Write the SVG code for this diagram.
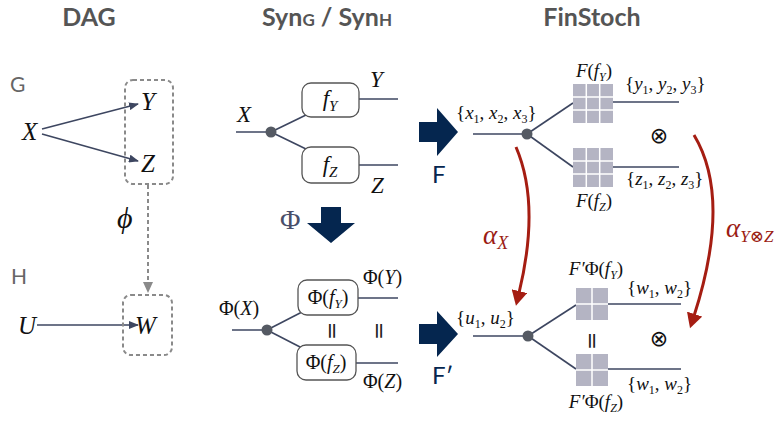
<svg xmlns="http://www.w3.org/2000/svg" width="783" height="424" viewBox="0 0 783 424">
<style>
.title{font-family:Lato,"Open Sans",sans-serif;font-weight:700;font-size:25px;fill:#555}
.sub{font-size:17px}
.lab{font-family:Lato,"Open Sans",sans-serif;font-size:21px;fill:#666}
.m{font-family:"Liberation Serif","DejaVu Serif",serif;font-style:italic;fill:#111}
.r{font-family:"Liberation Serif","DejaVu Serif",serif;fill:#111}
.up{font-style:normal}
.wire{stroke:#3d4660;stroke-width:1.6;fill:none}
.box{fill:#fff;stroke:#555;stroke-width:1.3}
.dash{fill:none;stroke:#8a8a8a;stroke-width:2;stroke-dasharray:4 3}
.dot{fill:#555a63}
.cell{fill:#b4b4c3}
.gap{stroke:#fff;stroke-width:1.5}
.big{fill:#05264f}
.bigt{font-family:Lato,"Open Sans",sans-serif;font-size:24px;fill:#05264f}
.red{stroke:#a51d12;stroke-width:3;fill:none}
.redt{fill:#9b1c14;font-family:"Liberation Serif","DejaVu Serif",serif;font-style:italic}
.eq{font-family:"DejaVu Sans",sans-serif;font-size:22px;fill:#222}
.ot{font-family:"DejaVu Sans",sans-serif;font-size:22px;fill:#111}
</style>
<defs>
<marker id="ah" markerUnits="userSpaceOnUse" markerWidth="10" markerHeight="8" refX="9" refY="4" orient="auto"><path d="M0,0 L10,4 L0,8 z" fill="#3d4660"/></marker>
<marker id="ahg" markerUnits="userSpaceOnUse" markerWidth="12" markerHeight="10" refX="1" refY="5" orient="auto"><path d="M0,0 L11,5 L0,10 z" fill="#8a8a8a"/></marker>
<marker id="ahr" markerUnits="userSpaceOnUse" markerWidth="16" markerHeight="16" refX="2" refY="8" orient="auto"><path d="M0,0 L15,8 L0,16 z" fill="#a51d12"/></marker>
<g id="g3"><rect class="cell" x="0" y="0" width="40" height="39"/><path class="gap" d="M13.3,0V39M26.7,0V39M0,13H40M0,26H40"/></g>
<g id="g2"><rect class="cell" x="0" y="0" width="32" height="32"/><path class="gap" d="M16,0V32M0,16H32"/></g>
</defs>
<rect width="783" height="424" fill="#fff"/>

<g id="titles">
<text class="title" x="89" y="26" text-anchor="middle">DAG</text>
<text class="title" x="327" y="26" text-anchor="middle">Syn<tspan class="sub">G</tspan> / Syn<tspan class="sub">H</tspan></text>
<text class="title" x="592" y="26" text-anchor="middle">FinStoch</text>
</g>

<g id="connectors">
<line class="wire" x1="42" y1="129" x2="138" y2="104" marker-end="url(#ah)"/>
<line class="wire" x1="42" y1="134" x2="138" y2="161" marker-end="url(#ah)"/>
<line class="wire" x1="37" y1="325" x2="138" y2="325" marker-end="url(#ah)"/>
<path class="dash" d="M148,185V283" marker-end="url(#ahg)"/>
<line class="wire" x1="236" y1="132" x2="271" y2="132"/>
<line class="wire" x1="271" y1="132" x2="306" y2="115"/>
<line class="wire" x1="271" y1="132" x2="306" y2="149"/>
<line class="wire" x1="359" y1="99" x2="398" y2="99"/>
<line class="wire" x1="359" y1="165" x2="398" y2="165"/>
<line class="wire" x1="232" y1="330" x2="267" y2="330"/>
<line class="wire" x1="267" y1="330" x2="302" y2="312"/>
<line class="wire" x1="267" y1="330" x2="302" y2="348"/>
<line class="wire" x1="358" y1="298" x2="398" y2="298"/>
<line class="wire" x1="356" y1="363" x2="398" y2="363"/>
<line class="wire" x1="473" y1="134" x2="527" y2="134"/>
<line class="wire" x1="527" y1="134" x2="573" y2="103"/>
<line class="wire" x1="527" y1="134" x2="573" y2="167"/>
<line class="wire" x1="613" y1="102" x2="679" y2="102"/>
<line class="wire" x1="613" y1="167" x2="679" y2="167"/>
<line class="wire" x1="473" y1="336" x2="528" y2="336"/>
<line class="wire" x1="528" y1="336" x2="576" y2="305"/>
<line class="wire" x1="528" y1="336" x2="576" y2="369"/>
<line class="wire" x1="608" y1="304" x2="681" y2="304"/>
<line class="wire" x1="608" y1="369" x2="681" y2="369"/>
<path class="red" d="M516,147 Q540.5,204 519,293" marker-end="url(#ahr)"/>
<path class="red" d="M694,135 Q732,198 694,316" marker-end="url(#ahr)"/>
</g>

<g id="dag-G">
<text class="lab" x="10" y="92">G</text>
<rect class="dash" x="125" y="80" width="48" height="104" rx="8"/>
<text class="m" x="22" y="140" font-size="25">X</text>
<text class="m" x="141" y="110" font-size="25">Y</text>
<text class="m" x="141" y="172" font-size="25">Z</text>
</g>
<g id="phi">
<text class="m" x="117" y="228" font-size="30">ϕ</text>
</g>
<g id="dag-H">
<text class="lab" x="11" y="284">H</text>
<rect class="dash" x="123" y="295" width="49" height="60" rx="8"/>
<text class="m" x="18" y="334" font-size="25">U</text>
<text class="m" x="135" y="334" font-size="25">W</text>
</g>

<g id="syn-G">
<text class="m" x="237" y="122" font-size="23">X</text>
<circle class="dot" cx="271" cy="132" r="5.5"/>
<rect class="box" x="302" y="83" width="57" height="34" rx="9"/>
<text class="m" x="330" y="106" font-size="23" text-anchor="middle">f<tspan font-size="15" dy="5">Y</tspan></text>
<rect class="box" x="302" y="147" width="57" height="36" rx="9"/>
<text class="m" x="330" y="172" font-size="23" text-anchor="middle">f<tspan font-size="15" dy="5">Z</tspan></text>
<text class="m" x="370" y="87" font-size="23">Y</text>
<text class="m" x="371" y="193" font-size="23">Z</text>
</g>

<g id="Phi-arrow">
<polygon class="big" points="321,207 341,207 341,223 355,223 331,243 307,223 321,223"/>
<text x="280" y="229" font-family="Liberation Serif, serif" font-size="28" fill="#4a4f6a">Φ</text>
</g>

<g id="syn-H">
<text class="r" x="219" y="315" font-size="20">Φ(<tspan class="m">X</tspan>)</text>
<circle class="dot" cx="267" cy="330" r="5.5"/>
<rect class="box" x="298" y="280" width="60" height="35" rx="9"/>
<text class="r" x="328" y="304" font-size="20" text-anchor="middle">Φ(<tspan class="m">f</tspan><tspan class="m" font-size="13" dy="4">Y</tspan><tspan dy="-4">)</tspan></text>
<rect class="box" x="297" y="345" width="59" height="35" rx="9"/>
<text class="r" x="326" y="369" font-size="20" text-anchor="middle">Φ(<tspan class="m">f</tspan><tspan class="m" font-size="13" dy="4">Z</tspan><tspan dy="-4">)</tspan></text>
<text class="r" x="363" y="284" font-size="20">Φ(<tspan class="m">Y</tspan>)</text>
<text class="r" x="363" y="388" font-size="20">Φ(<tspan class="m">Z</tspan>)</text>
<text class="eq" x="332" y="331" text-anchor="middle" dominant-baseline="central" transform="rotate(90 332 331)">=</text>
<text class="eq" x="379" y="331" text-anchor="middle" dominant-baseline="central" transform="rotate(90 379 331)">=</text>
</g>

<g id="F-arrow">
<polygon class="big" points="419,122 437,122 437,108 458,132 437,156 437,142 419,142"/>
<text class="bigt" x="432" y="183">F</text>
</g>
<g id="Fp-arrow">
<polygon class="big" points="419,324 437,324 437,311 458,334 437,357 437,344 419,344"/>
<text class="bigt" x="432" y="384">F′</text>
</g>

<g id="fin-G">
<text class="r" x="456" y="119" font-size="19">{<tspan class="m">x</tspan><tspan font-size="12" dy="4">1</tspan><tspan dy="-4">, </tspan><tspan class="m">x</tspan><tspan font-size="12" dy="4">2</tspan><tspan dy="-4">, </tspan><tspan class="m">x</tspan><tspan font-size="12" dy="4">3</tspan><tspan dy="-4">}</tspan></text>
<circle class="dot" cx="527" cy="134" r="5.5"/>
<use href="#g3" x="573" y="84"/>
<use href="#g3" x="573" y="148"/>
<text class="m" x="594" y="77" font-size="19" text-anchor="middle">F<tspan class="up">(</tspan>f<tspan font-size="12" dy="4">Y</tspan><tspan class="up" dy="-4">)</tspan></text>
<text class="m" x="594" y="207" font-size="19" text-anchor="middle">F<tspan class="up">(</tspan>f<tspan font-size="12" dy="4">Z</tspan><tspan class="up" dy="-4">)</tspan></text>
<text class="r" x="625" y="90" font-size="19">{<tspan class="m">y</tspan><tspan font-size="12" dy="4">1</tspan><tspan dy="-4">, </tspan><tspan class="m">y</tspan><tspan font-size="12" dy="4">2</tspan><tspan dy="-4">, </tspan><tspan class="m">y</tspan><tspan font-size="12" dy="4">3</tspan><tspan dy="-4">}</tspan></text>
<text class="r" x="626" y="185" font-size="19">{<tspan class="m">z</tspan><tspan font-size="12" dy="4">1</tspan><tspan dy="-4">, </tspan><tspan class="m">z</tspan><tspan font-size="12" dy="4">2</tspan><tspan dy="-4">, </tspan><tspan class="m">z</tspan><tspan font-size="12" dy="4">3</tspan><tspan dy="-4">}</tspan></text>
<text class="ot" x="659" y="143" text-anchor="middle">⊗</text>
</g>

<g id="fin-H">
<text class="r" x="456" y="324" font-size="19">{<tspan class="m">u</tspan><tspan font-size="12" dy="4">1</tspan><tspan dy="-4">, </tspan><tspan class="m">u</tspan><tspan font-size="12" dy="4">2</tspan><tspan dy="-4">}</tspan></text>
<circle class="dot" cx="528" cy="336" r="5.5"/>
<use href="#g2" x="576" y="288"/>
<use href="#g2" x="576" y="354"/>
<text class="m" x="596" y="275" font-size="19" text-anchor="middle">F′<tspan class="up">Φ(</tspan>f<tspan font-size="12" dy="4">Y</tspan><tspan class="up" dy="-4">)</tspan></text>
<text class="m" x="596" y="408" font-size="19" text-anchor="middle">F′<tspan class="up">Φ(</tspan>f<tspan font-size="12" dy="4">Z</tspan><tspan class="up" dy="-4">)</tspan></text>
<text class="eq" x="592" y="341" text-anchor="middle" dominant-baseline="central" transform="rotate(90 592 341)">=</text>
<text class="r" x="627" y="294" font-size="19">{<tspan class="m">w</tspan><tspan font-size="12" dy="4">1</tspan><tspan dy="-4">, </tspan><tspan class="m">w</tspan><tspan font-size="12" dy="4">2</tspan><tspan dy="-4">}</tspan></text>
<text class="r" x="627" y="390" font-size="19">{<tspan class="m">w</tspan><tspan font-size="12" dy="4">1</tspan><tspan dy="-4">, </tspan><tspan class="m">w</tspan><tspan font-size="12" dy="4">2</tspan><tspan dy="-4">}</tspan></text>
<text class="ot" x="659" y="346" text-anchor="middle">⊗</text>
</g>

<g id="alpha-X">
<text class="redt" x="483" y="244" font-size="27">α<tspan font-size="18" dy="5">X</tspan></text>
</g>
<g id="alpha-YZ">
<text class="redt" x="726" y="237" font-size="27">α<tspan font-size="17" dy="5">Y⊗Z</tspan></text>
</g>
</svg>
